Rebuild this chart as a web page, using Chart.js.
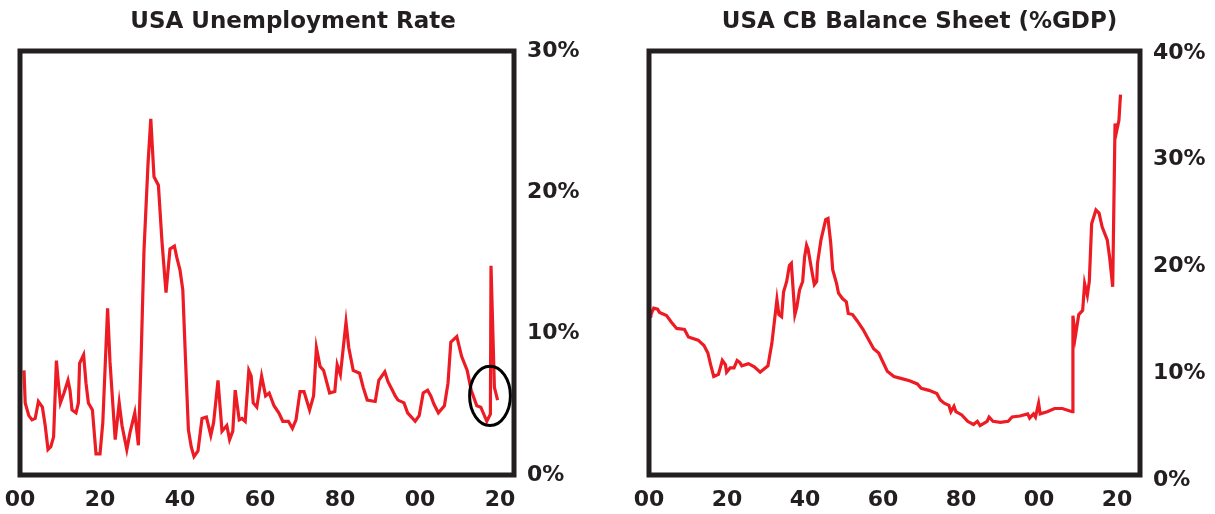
<!DOCTYPE html>
<html><head><meta charset="utf-8">
<script src="https://cdn.jsdelivr.net/npm/chart.js@4/dist/chart.umd.min.js"></script>
<style>
html,body{margin:0;padding:0;background:#fff;width:1215px;height:514px;overflow:hidden}
#c1{position:absolute;left:0;top:0}
#c2{position:absolute;left:624px;top:0}
</style></head><body>
<canvas id="c1" width="586" height="514"></canvas>
<canvas id="c2" width="591" height="514"></canvas>
<script>
// ---- Data: USA unemployment rate (%) ----
const unempYears = [1901.0,1901.3,1902.2,1903.0,1903.8,1904.6,1905.6,1906.3,1907.0,1907.7,1908.4,1909.1,1909.5,1910.1,1911.0,1912.0,1912.5,1913.0,1914.0,1914.6,1914.9,1915.9,1916.5,1917.1,1918.1,1919.0,1920.0,1920.7,1921.9,1922.5,1923.8,1924.8,1925.5,1926.7,1927.5,1928.7,1929.6,1930.3,1931.0,1932.0,1932.7,1933.5,1934.6,1935.5,1936.5,1937.5,1938.6,1939.2,1940.0,1940.7,1941.4,1942.1,1942.8,1943.5,1944.5,1945.5,1946.6,1947.7,1948.4,1949.5,1950.5,1951.7,1952.4,1953.2,1953.8,1954.8,1955.5,1956.3,1957.2,1957.8,1958.3,1959.2,1960.4,1961.4,1962.3,1963.5,1964.7,1965.7,1967.1,1968.1,1969.0,1970.0,1971.0,1972.4,1973.4,1974.1,1975.0,1975.9,1977.4,1978.7,1979.3,1980.1,1981.5,1982.2,1983.3,1984.9,1985.8,1986.8,1988.8,1989.7,1991.2,1992.0,1993.1,1993.8,1994.5,1996.0,1996.9,1998.8,1999.8,2000.8,2001.9,2002.7,2003.5,2004.6,2006.1,2007.0,2007.7,2009.2,2010.4,2011.8,2012.8,2014.2,2015.2,2016.7,2017.6,2017.75,2018.6,2019.4];
const unempValues = [7.4,5.1,4.2,3.9,4.0,5.2,4.8,3.5,1.8,2.0,2.7,8.1,6.8,5.1,5.8,6.7,6.0,4.6,4.4,5.1,7.9,8.5,6.5,5.1,4.6,1.5,1.5,3.7,11.8,8.0,2.5,5.1,3.5,1.8,3.0,4.4,2.1,8.5,15.9,22.0,25.2,21.1,20.5,16.5,12.9,16.0,16.2,15.4,14.5,13.1,8.0,3.2,2.0,1.3,1.7,4.0,4.1,2.8,3.7,6.7,3.1,3.5,2.5,3.1,6.0,3.9,4.0,3.8,7.4,7.0,5.1,4.8,7.0,5.6,5.8,4.9,4.4,3.8,3.8,3.3,3.9,5.9,5.9,4.6,5.6,9.0,7.7,7.4,5.8,5.9,7.8,7.1,10.8,9.0,7.4,7.2,6.2,5.3,5.2,6.7,7.3,6.6,6.0,5.6,5.3,5.1,4.4,3.8,4.2,5.8,6.0,5.6,5.0,4.4,4.9,6.5,9.4,9.8,8.4,7.4,6.0,4.9,4.8,3.8,4.3,14.8,6.2,5.3];

// ---- Data: USA central bank balance sheet (% of GDP) ----
const cbYears = [1900.4,1900.6,1901.2,1902.2,1902.7,1904.5,1905.7,1907.1,1909.1,1910.1,1912.6,1914.1,1915.1,1915.8,1916.6,1917.8,1918.8,1919.6,1919.9,1920.8,1921.8,1922.6,1923.3,1923.8,1925.5,1927.0,1928.5,1929.5,1930.5,1931.5,1932.8,1933.3,1934.0,1934.5,1935.3,1936.0,1936.5,1937.4,1937.9,1938.6,1939.4,1939.9,1940.4,1940.8,1941.7,1942.4,1943.0,1943.2,1944.1,1945.3,1945.9,1946.6,1947.1,1948.1,1948.6,1949.6,1950.6,1951.1,1952.2,1953.4,1954.9,1956.4,1957.6,1958.9,1959.8,1961.1,1962.8,1964.8,1966.8,1968.8,1969.8,1971.8,1973.8,1974.7,1975.7,1976.9,1977.4,1978.2,1978.7,1980.2,1981.7,1983.2,1984.2,1984.9,1986.7,1987.2,1988.2,1990.1,1992.1,1993.1,1995.1,1997.1,1997.6,1998.6,1999.1,1999.9,2000.3,2002.1,2004.0,2006.0,2008.5,2008.7,2009.3,2010.2,2011.2,2011.7,2012.4,2012.9,2013.5,2014.6,2015.4,2016.2,2017.5,2018.1,2018.9,2019.5,2019.8,2020.5,2020.9];
const cbValues = [15.2,15.6,16.1,16.0,15.7,15.4,14.8,14.2,14.1,13.4,13.1,12.6,11.9,10.8,9.7,9.9,11.2,10.8,10.1,10.5,10.5,11.2,11.0,10.7,10.9,10.6,10.1,10.4,10.7,12.8,16.9,15.5,15.3,17.6,18.6,20.1,20.3,15.5,16.2,17.8,18.6,20.9,22.0,21.6,19.7,18.3,18.6,20.3,22.5,24.4,24.5,22.2,19.7,18.4,17.5,17.0,16.7,15.6,15.5,14.9,14.1,13.1,12.3,11.9,11.2,10.2,9.7,9.5,9.3,9.0,8.6,8.4,8.1,7.5,7.2,7.0,6.4,6.9,6.4,6.1,5.5,5.2,5.5,5.1,5.5,5.9,5.5,5.4,5.5,5.9,6.0,6.2,5.8,6.2,5.9,7.2,6.2,6.4,6.7,6.7,6.4,15.4,13.4,15.5,15.9,18.4,17.3,18.6,24.0,25.3,25.0,23.7,22.5,20.9,18.1,33.4,32.5,33.7,36.1];

// ---- Titles and tick labels ----
const titles = ['USA Unemployment Rate', 'USA CB Balance Sheet (%GDP)'];
const xTickYears = [1900, 1920, 1940, 1960, 1980, 2000, 2020];
const unempTicks = [0, 10, 20, 30];
const cbTicks = [0, 10, 20, 30, 40];
// highlight ellipse on the latest unemployment spike (centre year, centre %, half-width years, half-height %)
const highlight = {year: 2017.5, value: 5.6, rYears: 5.1, rValue: 2.1};

const INK = '#231f20';
const RED = '#ed1c24';
const FONT = '"DejaVu Sans", sans-serif';

const boxPlugin = {
  id: 'box',
  afterDatasetsDraw(chart, args, opts) {
    const {ctx, chartArea: a, scales} = chart;
    ctx.save();
    if (opts.ellipse) {
      const e = opts.ellipse;
      const cx = scales.x.getPixelForValue(e.year);
      const cy = scales.y.getPixelForValue(e.value);
      const rx = Math.abs(scales.x.getPixelForValue(e.year + e.rYears) - cx);
      const ry = Math.abs(scales.y.getPixelForValue(e.value + e.rValue) - cy);
      ctx.beginPath();
      ctx.ellipse(cx, cy, rx, ry, 0, 0, Math.PI * 2);
      ctx.lineWidth = 3;
      ctx.strokeStyle = '#000';
      ctx.stroke();
    }
    ctx.lineWidth = 5;
    ctx.strokeStyle = INK;
    ctx.strokeRect(a.left, a.top, a.right - a.left, a.bottom - a.top);
    ctx.restore();
  }
};

function makeChart(id, title, years, values, xMax, yMin, yMax, yTicks, leftW, rightW, ellipse) {
  return new Chart(document.getElementById(id), {
    type: 'line',
    data: {
      datasets: [{
        data: years.map((x, i) => ({x: x, y: values[i]})),
        borderColor: RED,
        borderWidth: 3.2,
        pointRadius: 0,
        tension: 0,
        fill: false
      }]
    },
    options: {
      responsive: false,
      animation: false,
      layout: {padding: 0},
      plugins: {
        legend: {display: false},
        tooltip: {enabled: false},
        title: {
          display: true,
          text: title,
          color: INK,
          font: {family: FONT, size: 23, weight: 'bold', lineHeight: 1.2},
          padding: {top: 8, bottom: 51 - 8 - 27.6}
        },
        box: {ellipse: ellipse}
      },
      scales: {
        x: {
          type: 'linear', position: 'bottom', min: 1900, max: xMax,
          afterBuildTicks: s => { s.ticks = xTickYears.map(v => ({value: v})); },
          afterFit: s => { s.height = 39; s.paddingLeft = 0; s.paddingRight = 0; },
          grid: {display: false, drawTicks: false},
          border: {display: false},
          ticks: {
            autoSkip: false, maxRotation: 0, padding: 12, color: INK,
            font: {family: FONT, size: 22, weight: 'bold'},
            callback: v => String(Math.round(v) % 100).padStart(2, '0')
          }
        },
        y: {
          type: 'linear', position: 'right', min: yMin, max: yMax,
          afterBuildTicks: s => { s.ticks = yTicks.map(v => ({value: v})); },
          afterFit: s => { s.width = rightW; s.paddingTop = 0; s.paddingBottom = 0; },
          grid: {display: false, drawTicks: false},
          border: {display: false},
          ticks: {
            padding: 13, color: INK,
            font: {family: FONT, size: 22, weight: 'bold'},
            callback: v => v + '%'
          }
        },
        yl: {
          type: 'linear', position: 'left',
          afterFit: s => { s.width = leftW; s.paddingTop = 0; s.paddingBottom = 0; },
          grid: {display: false, drawTicks: false},
          border: {display: false},
          ticks: {display: false}
        }
      }
    },
    plugins: [boxPlugin]
  });
}

makeChart('c1', titles[0], unempYears, unempValues, 2023.5, 0, 30, unempTicks, 20, 72, highlight);
makeChart('c2', titles[1], cbYears, cbValues, 2025.9, 0.47, 40.19, cbTicks, 25, 75, null);
</script>
</body></html>
